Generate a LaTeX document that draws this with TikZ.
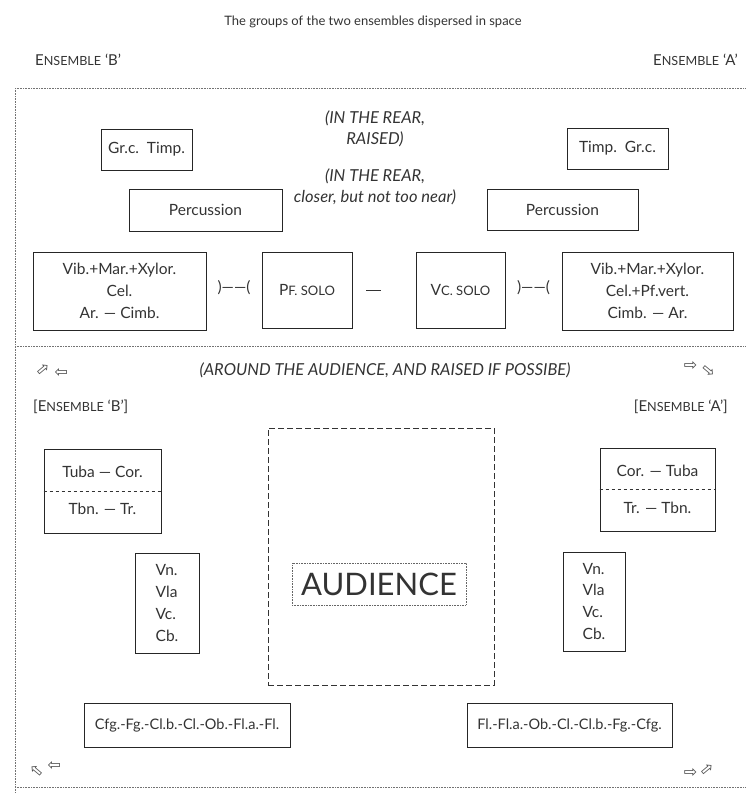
\documentclass[tikz,border=0pt]{standalone}
\usepackage{fontspec}
\setmainfont{Lato}
\newfontfamily\glyphfont{DejaVu Sans}
\usetikzlibrary{positioning,calc}

\newcommand\boxfont{\fontsize{15.5}{22}\selectfont}
\newcommand\smcp[2]{#1\scalebox{0.84}{#2}}

\tikzstyle{block} = [rectangle, draw=black!85, line width=0.7pt, inner sep=0pt,
    align=center, font=\boxfont, text=black!80]
\tikzstyle{note} = [align=center, font=\fontsize{16.5}{21}\selectfont\itshape, text=black!80]
\tikzstyle{tag} = [inner sep=0pt, font=\fontsize{15}{16}\selectfont, text=black!80]
\tikzstyle{frame} = [draw=black!55, densely dotted, line width=0.6pt]
\tikzstyle{link} = [draw=black!80, line width=0.6pt]
\tikzstyle{sign} = [inner sep=0pt, font=\glyphfont\fontsize{16}{16}\selectfont, text=black!70]

\begin{document}
\begin{tikzpicture}[x=1pt, y=-1pt, node distance = 2cm, auto]
    \useasboundingbox (0,0) rectangle (746,793);
    % Frame
    \draw[frame] (15,88) -- (746,88);
    \draw[frame] (15,346) -- (746,346);
    \draw[frame] (15,787) -- (746,787);
    \draw[frame] (15,88) -- (15,793);
    % Headings
    \node [tag, font=\fontsize{13}{15}\selectfont] (title) at (373,22)
        {The groups of the two ensembles dispersed in space};
    \node [tag, anchor=west] (ensB) at (35,60) {\smcp{E}{NSEMBLE} ‘B’};
    \node [tag, anchor=east] (ensA) at (738,60) {\smcp{E}{NSEMBLE} ‘A’};
    % Place nodes: stage
    \node [note] (rear) at (375,129) {(IN THE REAR,\\RAISED)};
    \node [note] (near) at (375,187) {(IN THE REAR,\\closer, but not too near)};
    \node [block, minimum width=91, minimum height=41] (timpB) at (146.5,149.5) {Gr.c.\ \ Timp.};
    \node [block, minimum width=101, minimum height=41] (timpA) at (617.5,148.5) {Timp.\ \ Gr.c.};
    \node [block, minimum width=153, minimum height=42] (percB) at (205.5,210) {Percussion};
    \node [block, minimum width=151, minimum height=41] (percA) at (562.5,209.5) {Percussion};
    \node [block, minimum width=173, minimum height=78] (vibB) at (119.5,291)
        {Vib.+Mar.+Xylor.\\Cel.\\Ar. — Cimb.};
    \node [block, minimum width=90, minimum height=76] (pfB) at (307,290) {\smcp{P}{F. SOLO}};
    \node [block, minimum width=89, minimum height=76] (vcA) at (460.5,290) {\smcp{V}{C. SOLO}};
    \node [block, minimum width=171, minimum height=78] (vibA) at (647.5,291)
        {Vib.+Mar.+Xylor.\\Cel.+Pf.vert.\\Cimb. — Ar.};
    \node [tag, font=\boxfont] (jointB) at ($(vibB.east)!0.5!(pfB.west)+(0,-3)$) {)——(};
    \node [tag, font=\boxfont] (jointA) at ($(vcA.east)!0.5!(vibA.west)+(0,-3)$) {)——(};
    % Place nodes: hall
    \node [sign] (spkBtop) at (52,370) {\rotatebox{40}{⇨}\,⇦};
    \node [sign] (spkAtop) at (700,370) {⇨\,\rotatebox{-40}{⇨}};
    \node [note] (around) at (385,370) {(AROUND THE AUDIENCE, AND RAISED IF POSSIBE)};
    \node [tag, anchor=west] (hallB) at (33,407) {[\smcp{E}{NSEMBLE} ‘B’]};
    \node [tag, anchor=east] (hallA) at (728,407) {[\smcp{E}{NSEMBLE} ‘A’]};
    \node [block, minimum width=117, minimum height=84] (brassB) at (102.5,491) {};
    \node [block, minimum width=115, minimum height=83] (brassA) at (657.5,489.5) {};
    \node [tag, font=\boxfont] (brassBup) at ($(brassB)+(0,-19)$) {Tuba — Cor.};
    \node [tag, font=\boxfont] (brassBlow) at ($(brassB)+(0,18)$) {Tbn. — Tr.};
    \node [tag, font=\boxfont] (brassAup) at ($(brassA)+(0,-19)$) {Cor. — Tuba};
    \node [tag, font=\boxfont] (brassAlow) at ($(brassA)+(0,18)$) {Tr. — Tbn.};
    \node [block, minimum width=64, minimum height=100, align=left] (strB) at (167,603)
        {Vn.\\Vla\\Vc.\\Cb.};
    \node [block, minimum width=62, minimum height=99, align=left] (strA) at (594,601.5)
        {Vn.\\Vla\\Vc.\\Cb.};
    \node [draw=black!80, dash pattern=on 6pt off 3pt, line width=0.8pt,
        minimum width=226, minimum height=257] (hall) at (381,556.5) {};
    \node [draw=black!60, densely dotted, line width=0.6pt, inner sep=0pt,
        minimum width=174, minimum height=42, text=black!80,
        font=\fontsize{31}{31}\selectfont] (audience) at (379,584) {AUDIENCE};
    \node [block, minimum width=206, minimum height=44, font=\fontsize{14.5}{16}\selectfont]
        (windB) at (187,725) {Cfg.-Fg.-Cl.b.-Cl.-Ob.-Fl.a.-Fl.};
    \node [block, minimum width=205, minimum height=44, font=\fontsize{14.5}{16}\selectfont]
        (windA) at (569.5,725) {Fl.-Fl.a.-Ob.-Cl.-Cl.b.-Fg.-Cfg.};
    \node [sign] (spkBlow) at (45,770) {\rotatebox{-40}{⇦}\,⇦};
    \node [sign] (spkAlow) at (700,770) {⇨\,\rotatebox{40}{⇨}};
    % Draw edges
    \path [link, shorten <=14pt, shorten >=35pt] (pfB) -- (vcA);
    \path [draw=black!80, dashed, line width=0.7pt] (brassB.west) -- (brassB.east);
    \path [draw=black!80, dashed, line width=0.7pt] (brassA.west) -- (brassA.east);
\end{tikzpicture}
\end{document}
